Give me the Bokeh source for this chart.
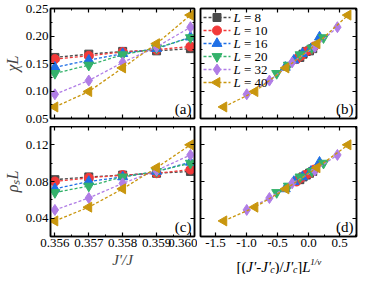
import numpy as np
from bokeh.plotting import figure
from bokeh.layouts import column, row
from bokeh.models import (Range1d, LinearAxis, FixedTicker, Label, PrintfTickFormatter)
from bokeh.embed import file_html
from bokeh.resources import INLINE

# ---------------- data ----------------
J = [0.356, 0.357, 0.358, 0.359, 0.360]
L_values = ["8", "10", "16", "20", "32", "40"]

chiL_8 = [0.161, 0.167, 0.172, 0.173, 0.177]
chiL_10 = [0.158, 0.164, 0.171, 0.175, 0.181]
chiL_16 = [0.143, 0.156, 0.168, 0.177, 0.198]
chiL_20 = [0.132, 0.147, 0.166, 0.178, 0.197]
chiL_32 = [0.094, 0.119, 0.152, 0.180, 0.216]
chiL_40 = [0.071, 0.099, 0.142, 0.186, 0.238]

rhoL_8 = [0.082, 0.085, 0.087, 0.089, 0.091]
rhoL_10 = [0.080, 0.084, 0.087, 0.089, 0.093]
rhoL_16 = [0.072, 0.080, 0.085, 0.091, 0.101]
rhoL_20 = [0.068, 0.075, 0.085, 0.091, 0.100]
rhoL_32 = [0.049, 0.062, 0.078, 0.092, 0.109]
rhoL_40 = [0.037, 0.052, 0.072, 0.095, 0.120]

# scaled variable [(J'-J'c)/J'c] L^(1/nu) (b)/(d)
xs_8 = [-0.142, -0.090, -0.038, 0.014, 0.066]
xs_10 = [-0.194, -0.123, -0.052, 0.019, 0.090]
xs_16 = [-0.376, -0.238, -0.100, 0.037, 0.175]
xs_20 = [-0.514, -0.326, -0.138, 0.051, 0.239]
xs_32 = [-0.996, -0.631, -0.266, 0.099, 0.463]
xs_40 = [-1.364, -0.864, -0.365, 0.135, 0.634]

chiL = [chiL_8, chiL_10, chiL_16, chiL_20, chiL_32, chiL_40]
rhoL = [rhoL_8, rhoL_10, rhoL_16, rhoL_20, rhoL_32, rhoL_40]
xs = [xs_8, xs_10, xs_16, xs_20, xs_32, xs_40]

xticks_J = [0.356, 0.357, 0.358, 0.359, 0.360]
xminor_J = [0.3565, 0.3575, 0.3585, 0.3595]
xticks_s = [-1.5, -1.0, -0.5, 0.0, 0.5]
xminor_s = [-1.25, -0.75, -0.25, 0.25, 0.75]
yticks_chi = [0.05, 0.10, 0.15, 0.20, 0.25]
yminor_chi = [0.075, 0.125, 0.175, 0.225]
yticks_rho = [0.04, 0.08, 0.12]
yminor_rho = [0.02, 0.06, 0.10, 0.14]

# ---------------- styles ----------------
colors = ["#4a4a4a", "#f23a3a", "#1f6fe6", "#34b26b", "#b07de6", "#c9960e"]
markers = ["square", "circle", "triangle", "inverted_triangle", "diamond", "triangle"]
angles = [0, 0, 0, 0, 0, np.pi / 2]
msizes = [8, 9, 10, 10, 11, 10]
FONT = "Liberation Serif"

xr_J = Range1d(0.35587, 0.36012)
xr_s = Range1d(-1.74, 0.77)
yr_chi = Range1d(0.05, 0.25)
yr_rho = Range1d(0.02, 0.14)


def style_axis(ax, ticks, minor, fmt, show_labels):
    ax.ticker = FixedTicker(ticks=ticks, minor_ticks=minor)
    ax.formatter = PrintfTickFormatter(format=fmt)
    ax.major_tick_in = 4
    ax.major_tick_out = 0
    ax.minor_tick_in = 2
    ax.minor_tick_out = 0
    ax.axis_line_color = "black"
    ax.axis_line_width = 1.5
    ax.major_tick_line_color = "black"
    ax.major_tick_line_width = 1.2
    ax.minor_tick_line_color = "black"
    ax.minor_tick_line_width = 1.0
    ax.major_label_text_font = FONT
    ax.major_label_text_font_size = "13px"
    if show_labels:
        ax.major_label_text_color = "black"
        ax.major_label_standoff = 2
    else:
        ax.major_label_text_color = None
        ax.major_label_standoff = 0


def make_fig(w, h, xr, yr, xt, xm, xf, yt, ym, yf, xlab, ylab, borders):
    p = figure(width=w, height=h, x_range=xr, y_range=yr,
               output_backend="svg", toolbar_location=None,
               x_axis_location=None, y_axis_location=None,
               min_border_left=borders[0], min_border_right=borders[1],
               min_border_top=borders[2], min_border_bottom=borders[3])
    p.grid.visible = False
    p.outline_line_color = "black"
    p.outline_line_width = 1.5
    p.background_fill_color = "white"
    p.border_fill_color = "white"
    axes = {}
    for side, lab in (("below", xlab), ("above", False)):
        ax = LinearAxis()
        style_axis(ax, xt, xm, xf, lab)
        p.add_layout(ax, side)
        axes[side] = ax
    for side, lab in (("left", ylab), ("right", False)):
        ax = LinearAxis()
        style_axis(ax, yt, ym, yf, lab)
        p.add_layout(ax, side)
        axes[side] = ax
    return p, axes


def add_series(p, xdata, ydata):
    for k in range(6):
        p.line(xdata[k], ydata[k], line_color=colors[k], line_width=1.3,
               line_dash="3 2")
        p.scatter(xdata[k], ydata[k], marker=markers[k], size=msizes[k],
                  angle=angles[k], fill_color=colors[k], line_color=colors[k])


def panel_tag(p, xr, yr, text):
    p.add_layout(Label(x=xr.end, y=yr.start, x_offset=-3, y_offset=2, text=text,
                       text_align="right", text_baseline="bottom",
                       text_font=FONT, text_font_size="15px", text_color="black"))


WA, WB = 197, 161
HT, HB = 126, 148
LBL_H = 21
BL_A, BR_A, BL_B, BR_B = 42, 3, 3, 2
BT_TOP, BB_TOP = 8, 8

pa, axa = make_fig(WA, HT, xr_J, yr_chi, xticks_J, xminor_J, "%.3f",
                   yticks_chi, yminor_chi, "%.2f", False, True, (BL_A, BR_A, BT_TOP, BB_TOP))
pb, axb = make_fig(WB, HT, xr_s, yr_chi, xticks_s, xminor_s, "%.1f",
                   yticks_chi, yminor_chi, "%.2f", False, False, (BL_B, BR_B, BT_TOP, BB_TOP))
pc, axc = make_fig(WA, HB, xr_J, yr_rho, xticks_J, xminor_J, "%.3f",
                   yticks_rho, yminor_rho, "%.2f", True, True, (BL_A, BR_A, 0, 38))
pd, axd = make_fig(WB, HB - LBL_H, xr_s, yr_rho, xticks_s, xminor_s, "%.1f",
                   yticks_rho, yminor_rho, "%.2f", True, False, (BL_B, BR_B, 0, 38 - LBL_H))

Jx = [J] * 6
add_series(pa, Jx, chiL)
add_series(pb, xs, chiL)
add_series(pc, Jx, rhoL)
add_series(pd, xs, rhoL)

for ax, txt in ((axa["left"], "χL"), (axc["left"], "ρₛL")):
    ax.axis_label = txt
    ax.axis_label_text_font = FONT
    ax.axis_label_text_font_style = "italic"
    ax.axis_label_text_font_size = "16px"
    ax.axis_label_standoff = 2
axc["below"].axis_label = "J'/J"
axc["below"].axis_label_text_font = FONT
axc["below"].axis_label_text_font_style = "italic"
axc["below"].axis_label_text_font_size = "15px"
axc["below"].axis_label_standoff = 2

# ---------- legend of panel (b), laid out in frame pixels ----------
fw_b = WB - BL_B - BR_B
fh_t = HT - BT_TOP - BB_TOP
dx = (xr_s.end - xr_s.start) / fw_b
dy = (yr_chi.end - yr_chi.start) / fh_t
for k in range(6):
    yk = yr_chi.end - (9 + 13 * k) * dy
    pb.line([xr_s.start + 3 * dx, xr_s.start + 30 * dx], [yk, yk],
            line_color=colors[k], line_width=1.3, line_dash="3 2")
    pb.scatter([xr_s.start + 16.5 * dx], [yk], marker=markers[k], size=msizes[k],
               angle=angles[k], fill_color=colors[k], line_color=colors[k])
    pb.add_layout(Label(x=xr_s.start + 33 * dx, y=yk, text="L", text_baseline="middle",
                        text_font=FONT, text_font_style="italic",
                        text_font_size="13px", text_color="black"))
    pb.add_layout(Label(x=xr_s.start + 43.5 * dx, y=yk, text="= " + L_values[k],
                        text_baseline="middle", text_font=FONT,
                        text_font_size="13px", text_color="black"))

# ---------- x label of panel (d): a strip figure under (d) ----------
lab_fig = figure(width=WB, height=LBL_H, x_range=Range1d(0, WB), y_range=Range1d(0, LBL_H),
                 output_backend="svg", toolbar_location=None,
                 x_axis_location=None, y_axis_location=None, title=None,
                 min_border=0, outline_line_color=None)
lab_fig.grid.visible = False
lab_fig.background_fill_color = "white"
lab_fig.border_fill_color = "white"

pieces = [("[(", "normal", 15, 0, 0.666), ("J'-J'", "italic", 15, 0, 1.649),
          ("c", "italic", 10, -3, 0.444), (")/", "normal", 15, 0, 0.611),
          ("J'", "italic", 15, 0, 0.658), ("c", "italic", 10, -3, 0.444),
          ("]", "normal", 15, 0, 0.333), ("L", "italic", 15, 0, 0.556),
          ("1/ν", "italic", 9, 5, 1.28)]
total = sum(q[2] * q[4] for q in pieces)
frame_mid = BL_B + fw_b / 2
xpos = frame_mid - total / 2
base = 8
for txt, st, fs, ddy, em in pieces:
    lab_fig.add_layout(Label(x=xpos, y=base + ddy, text=txt, text_align="left",
                             text_baseline="alphabetic", text_font=FONT,
                             text_font_style=st, text_font_size=f"{fs}px",
                             text_color="black"))
    xpos += fs * em

panel_tag(pa, xr_J, yr_chi, "(a)")
panel_tag(pb, xr_s, yr_chi, "(b)")
panel_tag(pc, xr_J, yr_rho, "(c)")
panel_tag(pd, xr_s, yr_rho, "(d)")

layout = column(row(pa, pb), row(pc, column(pd, lab_fig)))
open("out.html", "w").write(file_html(layout, INLINE))
